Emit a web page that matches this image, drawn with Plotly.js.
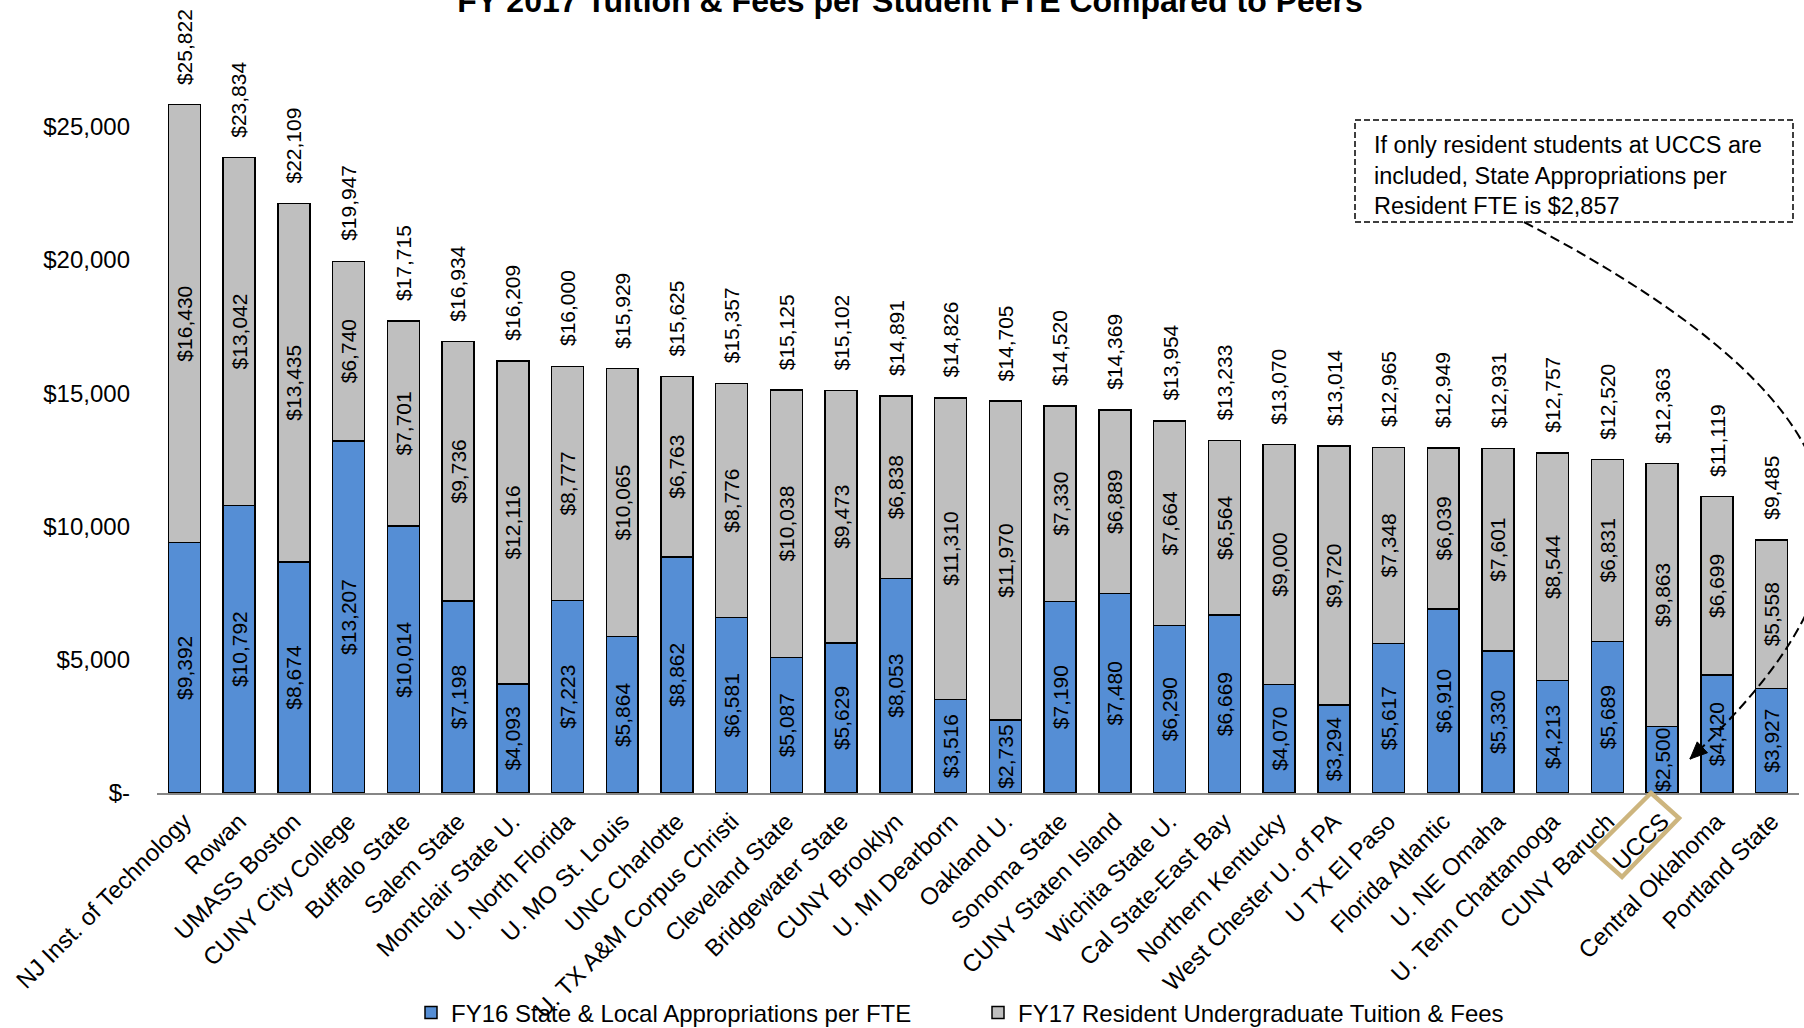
<!DOCTYPE html>
<html>
<head>
<meta charset="utf-8">
<script src="https://cdn.plot.ly/plotly-3.0.1.min.js"></script>
<style>
  html, body { margin: 0; padding: 0; background: #ffffff; }
  #chart { width: 1804px; height: 1028px; }
</style>
</head>
<body>
<div id="chart"></div>
<script>
// ---------------- DATA ----------------
const categories = [
  "NJ Inst. of Technology", "Rowan", "UMASS Boston", "CUNY City College", "Buffalo State",
  "Salem State", "Montclair State U.", "U. North Florida", "U. MO St. Louis", "UNC Charlotte",
  "U. TX A&M Corpus Christi", "Cleveland State", "Bridgewater State", "CUNY Brooklyn", "U. MI Dearborn",
  "Oakland U.", "Sonoma State", "CUNY Staten Island", "Wichita State U.", "Cal State-East Bay",
  "Northern Kentucky", "West Chester U. of PA", "U TX El Paso", "Florida Atlantic", "U. NE Omaha",
  "U. Tenn Chattanooga", "CUNY Baruch", "UCCS", "Central Oklahoma", "Portland State"
];
const appropriations = [
  9392, 10792, 8674, 13207, 10014,
  7198, 4093, 7223, 5864, 8862,
  6581, 5087, 5629, 8053, 3516,
  2735, 7190, 7480, 6290, 6669,
  4070, 3294, 5617, 6910, 5330,
  4213, 5689, 2500, 4420, 3927
];
const tuitionFees = [
  16430, 13042, 13435, 6740, 7701,
  9736, 12116, 8777, 10065, 6763,
  8776, 10038, 9473, 6838, 11310,
  11970, 7330, 6889, 7664, 6564,
  9000, 9720, 7348, 6039, 7601,
  8544, 6831, 9863, 6699, 5558
];
const totals = [
  25822, 23834, 22109, 19947, 17715,
  16934, 16209, 16000, 15929, 15625,
  15357, 15125, 15102, 14891, 14826,
  14705, 14520, 14369, 13954, 13233,
  13070, 13014, 12965, 12949, 12931,
  12757, 12520, 12363, 11119, 9485
];
const yTickVals = [0, 5000, 10000, 15000, 20000, 25000];
const yTickText = ["$-", "$5,000", "$10,000", "$15,000", "$20,000", "$25,000"];
const seriesNames = ["FY16 State & Local Appropriations per FTE", "FY17 Resident Undergraduate Tuition & Fees"];
const chartTitle = "FY 2017 Tuition & Fees per Student FTE Compared to Peers";
const noteText = "If only resident students at UCCS are<br>included, State Appropriations per<br>Resident FTE is $2,857";

// ---------------- LAYOUT GEOMETRY ----------------
const W = 1804, H = 1028;
const M = { l: 157, r: 5, t: 0, b: 235, autoexpand: false };
const PW = W - M.l - M.r, PH = H - M.t - M.b;
const px = x => (x - M.l) / PW;            // pixel x -> paper x
const py = y => (M.t + PH - y) / PH;        // pixel y -> paper y
const fmt = v => "$" + v.toLocaleString("en-US");
const FONT = "Liberation Sans, Arial, sans-serif";

const traces = [
  {
    type: "bar", name: seriesNames[0], x: categories, y: appropriations,
    marker: { color: "#558ED5", line: { color: "#000000", width: 1.5 } },
    texttemplate: "$%{y:,}", textposition: "inside", insidetextanchor: "middle",
    textangle: -90, constraintext: "none",
    textfont: { family: FONT, size: 21, color: "#000000" },
    hoverinfo: "skip"
  },
  {
    type: "bar", name: seriesNames[1], x: categories, y: tuitionFees,
    marker: { color: "#BFBFBF", line: { color: "#000000", width: 1.5 } },
    texttemplate: "$%{y:,}", textposition: "inside", insidetextanchor: "middle",
    textangle: -90, constraintext: "none",
    textfont: { family: FONT, size: 21, color: "#000000" },
    hoverinfo: "skip"
  }
];

const annotations = categories.map((c, i) => ({
  x: c, y: totals[i], xref: "x", yref: "y",
  text: fmt(totals[i]), textangle: -90, showarrow: false,
  xanchor: "center", yanchor: "bottom", yshift: 18,
  font: { family: FONT, size: 21, color: "#000000" }
}));
annotations.push({
  xref: "paper", yref: "paper", x: px(1372), y: py(175),
  xanchor: "left", yanchor: "middle", align: "left", showarrow: false,
  text: noteText, font: { family: FONT, size: 23.5, color: "#000000" }
});

// curved dashed connector (goes off the right edge and back, as in the reference)
const P0 = [1524, 222], P1 = [1900, 420], P2 = [1890, 570], P3 = [1690, 759];
const curvePath = "M" + px(P0[0]) + "," + py(P0[1]) +
  " C" + px(P1[0]) + "," + py(P1[1]) + " " + px(P2[0]) + "," + py(P2[1]) + " " + px(P3[0]) + "," + py(P3[1]);
const dx = P3[0] - P2[0], dy = P3[1] - P2[1], dl = Math.hypot(dx, dy);
const ux = dx / dl, uy = dy / dl, nx = -uy, ny = ux;
const AL = 17, AW = 7.5;
const bx = P3[0] - AL * ux, by = P3[1] - AL * uy;
const headPath = "M" + px(P3[0]) + "," + py(P3[1]) +
  " L" + px(bx + AW * nx) + "," + py(by + AW * ny) +
  " L" + px(bx - AW * nx) + "," + py(by - AW * ny) + " Z";
const diamond = [[1651, 793], [1679, 818], [1622, 877], [1593, 851]];
const diamondPath = "M" + diamond.map(p => px(p[0]) + "," + py(p[1])).join(" L") + " Z";

const shapes = [
  { type: "rect", xref: "paper", yref: "paper", x0: px(1355), x1: px(1793), y0: py(120), y1: py(222),
    line: { color: "#000000", width: 1.5, dash: "6px,3px" }, fillcolor: "rgba(0,0,0,0)" },
  { type: "path", xref: "paper", yref: "paper", path: curvePath,
    line: { color: "#000000", width: 2, dash: "10px,5px" } },
  { type: "path", xref: "paper", yref: "paper", path: headPath,
    line: { color: "#000000", width: 1 }, fillcolor: "#000000" },
  { type: "path", xref: "paper", yref: "paper", path: diamondPath,
    line: { color: "#CDB57E", width: 4.5 }, fillcolor: "rgba(0,0,0,0)" }
];

const layout = {
  width: W, height: H,
  margin: M,
  paper_bgcolor: "#ffffff", plot_bgcolor: "#ffffff",
  barmode: "stack", bargap: 0.416,
  font: { family: FONT, color: "#000000" },
  title: {
    text: chartTitle, xref: "container", yref: "container",
    x: 910 / W, xanchor: "center", y: 1 - 12 / H, yanchor: "bottom",
    font: { family: FONT, size: 32, weight: "bold", color: "#000000" }
  },
  xaxis: {
    type: "category", range: [-0.5, categories.length - 0.5],
    showgrid: false, zeroline: false, showline: true, linecolor: "#868686", linewidth: 2,
    ticks: "", tickangle: -45, ticklabelstandoff: 3,
    tickfont: { family: FONT, size: 24, color: "#000000" }
  },
  yaxis: {
    range: [0, 29750], showgrid: false, zeroline: false, showline: false, ticks: "",
    tickvals: yTickVals, ticktext: yTickText, ticklabelstandoff: 26,
    tickfont: { family: FONT, size: 24, color: "#000000" }
  },
  showlegend: true,
  legend: {
    orientation: "h", x: px(411), xanchor: "left", y: py(1013), yanchor: "middle",
    entrywidth: 522, entrywidthmode: "pixels",
    font: { family: FONT, size: 24, color: "#000000" }, traceorder: "normal",
    bgcolor: "rgba(0,0,0,0)"
  },
  annotations: annotations,
  shapes: shapes
};

Plotly.newPlot("chart", traces, layout, { displayModeBar: false, staticPlot: true });
</script>
</body>
</html>
